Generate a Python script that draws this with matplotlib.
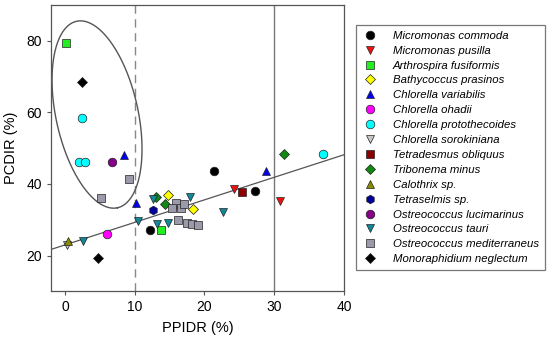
import numpy as np
import matplotlib
matplotlib.use("Agg")
import matplotlib.pyplot as plt

plt.rcParams['font.family'] = ['Liberation Sans', 'DejaVu Sans']

# species, marker, colour, PPIDR values, PCDIR values
species = ["Micromonas commoda", "Micromonas pusilla", "Arthrospira fusiformis",
           "Bathycoccus prasinos", "Chlorella variabilis", "Chlorella ohadii",
           "Chlorella protothecoides", "Chlorella sorokiniana", "Tetradesmus obliquus",
           "Tribonema minus", "Calothrix sp.", "Tetraselmis sp.",
           "Ostreococcus lucimarinus", "Ostreococcus tauri",
           "Ostreococcus mediterraneus", "Monoraphidium neglectum"]
markers = ["o", "v", "s", "D", "^", "o", "o", "v", "s", "D", "^", "h", "o", "v", "s", "D"]
colors = ["black", "#ee1111", "#22ee22", "#ffff00", "#0000ee", "#ff00ff", "#00ffff",
          "#c8c8c8", "#8b0000", "#118811", "#8b8b00", "#000099", "#880088",
          "#118899", "#9a9aaa", "black"]

ppidr = [
    [21.3, 27.2, 12.2],
    [24.3, 30.8],
    [0.1, 13.7],
    [14.7, 18.3],
    [8.5, 10.2, 28.8],
    [6.0],
    [2.5, 2.0, 2.9, 37.0],
    [0.3],
    [25.4],
    [31.4, 13.0, 14.3],
    [0.5],
    [12.6],
    [6.7],
    [2.6, 10.4, 12.6, 13.2, 14.8, 17.9, 22.6],
    [9.2, 5.1, 15.9, 15.4, 16.6, 17.1, 16.2, 17.5, 18.2, 19.1],
    [2.5, 4.7],
]
pcdir = [
    [43.5, 38.1, 27.2],
    [38.7, 35.2],
    [79.3, 27.2],
    [36.8, 33.1],
    [48.0, 34.8, 43.6],
    [25.9],
    [58.3, 46.1, 46.1, 48.4],
    [23.0],
    [37.7],
    [48.4, 36.3, 34.5],
    [24.0],
    [32.8],
    [46.1],
    [24.0, 29.7, 35.7, 28.7, 29.2, 36.3, 32.3],
    [41.3, 36.2, 34.7, 33.4, 33.2, 34.5, 29.8, 29.2, 28.9, 28.5],
    [68.5, 19.2],
]

# regression line
fit_intercept = 22.96
fit_slope = 0.63

fig = plt.figure(figsize=(5.5, 3.43), dpi=100)
ax = fig.add_axes([0.0927, 0.1507, 0.5328, 0.8347])

ax.axvline(10, color="#888888", linestyle=(0, (6, 4)), linewidth=1.0, zorder=1)
ax.axvline(30, color="#777777", linewidth=1.0, zorder=1)

xl = np.array([-2, 40])
ax.plot(xl, fit_intercept + fit_slope * xl, color="#555555", linewidth=0.9, zorder=1)

# ellipse (drawn in pixel-like units then converted to data)
sx, sy = 6.97, 3.565      # px per data unit
cx, cy = 4.6, 59.4
a_px, b_px, tilt = 95.1, 41.0, np.radians(12.4)
t = np.linspace(0, 2 * np.pi, 300)
ux, uy = np.sin(tilt), -np.cos(tilt)
vx, vy = np.cos(tilt), np.sin(tilt)
ex = cx + (a_px * np.cos(t) * ux + b_px * np.sin(t) * vx) / sx
ey = cy + (a_px * np.cos(t) * uy + b_px * np.sin(t) * vy) / sy
ax.plot(ex, ey, color="#555555", linewidth=1.0, zorder=1)

for name, m, c, xs, ys in zip(species, markers, colors, ppidr, pcdir):
    ax.plot(xs, ys, linestyle="none", marker=m, markersize=6.2 if m != "D" else 5.6,
            markerfacecolor=c, markeredgecolor="#222222", markeredgewidth=0.5,
            label=name, zorder=3)

ax.set_xlim(-2, 40)
ax.set_ylim(10, 90)
ax.set_xticks([0, 10, 20, 30, 40])
ax.set_yticks([20, 40, 60, 80])
ax.tick_params(labelsize=10, length=3, width=0.8, color="#555555")
for s in ax.spines.values():
    s.set_color("#555555")
    s.set_linewidth(0.9)
ax.set_xlabel("PPIDR (%)", fontsize=10.5, labelpad=5)
ax.set_ylabel("PCDIR (%)", fontsize=10.5, labelpad=6)

leg = fig.legend(loc="upper left", bbox_to_anchor=(0.647, 0.927),
                 prop={"style": "italic", "size": 8.2}, frameon=True, fancybox=False,
                 edgecolor="#555555", handlelength=1.4, handletextpad=1.35,
                 labelspacing=0.43, borderpad=0.5, borderaxespad=0)
leg.get_frame().set_linewidth(0.9)

fig.savefig("out.png", dpi=100)
